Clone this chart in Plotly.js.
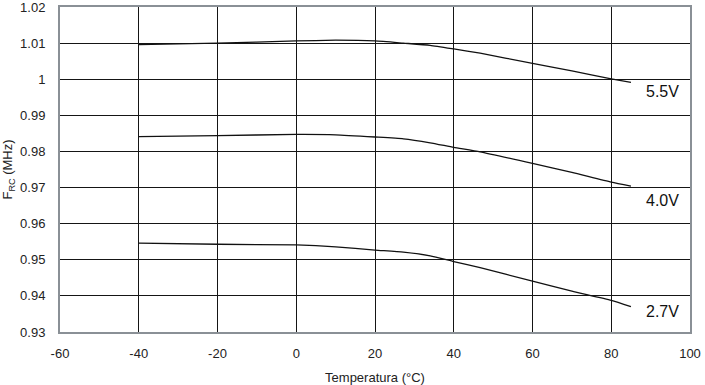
<!DOCTYPE html>
<html>
<head>
<meta charset="utf-8">
<script src="https://cdn.plot.ly/plotly-3.0.1.min.js"></script>
<style>html,body{margin:0;padding:0;background:#fff;}#chart{width:705px;height:385px;}</style>
</head>
<body>
<div id="chart"></div>
<script>
// Data
const temp55 = [-40, -20, 0, 10, 20, 27.2, 34, 40, 46.7, 60, 70, 80, 85];
const freq55 = [1.0096, 1.0100, 1.0106, 1.0108, 1.0106, 1.0100, 1.0094, 1.0084, 1.0072, 1.0044, 1.0023, 1.0001, 0.9991];
const temp40 = [-40, -20, 0, 10, 20, 27.2, 34, 40, 46.7, 60, 70, 80, 85];
const freq40 = [0.9841, 0.9844, 0.9847, 0.9846, 0.9840, 0.9835, 0.9824, 0.98115, 0.9799, 0.9767, 0.9742, 0.9715, 0.9704];
const temp27 = [-40, -20, 0, 10, 20, 27.2, 34, 40, 46.7, 60, 70, 80, 85];
const freq27 = [0.9546, 0.9543, 0.9541, 0.9536, 0.9527, 0.9521, 0.9511, 0.9495, 0.9478, 0.9441, 0.9413, 0.93875, 0.9370];
const seriesLabels = ["5.5V", "4.0V", "2.7V"];
const xTicks = [-60, -40, -20, 0, 20, 40, 60, 80, 100];
const yTicks = [0.93, 0.94, 0.95, 0.96, 0.97, 0.98, 0.99, 1.00, 1.01, 1.02];
const yTickText = ["0.93", "0.94", "0.95", "0.96", "0.97", "0.98", "0.99", "1", "1.01", "1.02"];

const lineStyle = {color: '#111', width: 1.3, shape: 'spline', smoothing: 0.5};
const traces = [
  {x: temp55, y: freq55, mode: 'lines', line: lineStyle, name: seriesLabels[0], hoverinfo: 'skip'},
  {x: temp40, y: freq40, mode: 'lines', line: lineStyle, name: seriesLabels[1], hoverinfo: 'skip'},
  {x: temp27, y: freq27, mode: 'lines', line: lineStyle, name: seriesLabels[2], hoverinfo: 'skip'}
];

const FONT = 'Liberation Sans, Arial, sans-serif';
const labelY = [0.9967, 0.96655, 0.93555];
const annotations = seriesLabels.map((t, i) => ({
  x: 92.9, y: labelY[i], xref: 'x', yref: 'y', text: t, showarrow: false,
  font: {family: FONT, size: 16, color: '#111'}
}));

const layout = {
  width: 705, height: 385,
  margin: {l: 60, r: 15, t: 7, b: 53},
  paper_bgcolor: '#fff', plot_bgcolor: '#fff',
  showlegend: false,
  font: {family: FONT, size: 13, color: '#222'},
  xaxis: {
    range: [-60, 100], tickvals: xTicks, ticktext: xTicks.map(String),
    showgrid: true, gridcolor: '#151515', gridwidth: 1,
    showline: true, linecolor: '#8a9096', linewidth: 2, mirror: true,
    zeroline: false, ticks: '', ticklen: 0, ticklabelstandoff: 8,
    ticklabeloverflow: 'allow', automargin: false,
    tickfont: {family: FONT, size: 13, color: '#222'},
    title: {text: 'Temperatura (°C)', font: {family: FONT, size: 13, color: '#222'}, standoff: 14}
  },
  yaxis: {
    range: [0.93, 1.02], tickvals: yTicks, ticktext: yTickText,
    showgrid: true, gridcolor: '#151515', gridwidth: 1,
    showline: true, linecolor: '#8a9096', linewidth: 2, mirror: true,
    zeroline: false, ticks: '', ticklen: 0, ticklabelstandoff: 10,
    ticklabeloverflow: 'allow', automargin: false,
    tickfont: {family: FONT, size: 13, color: '#222'},
    title: {text: 'F<sub>RC</sub> (MHz)', font: {family: FONT, size: 13, color: '#222'}, standoff: 8}
  },
  annotations: annotations
};

Plotly.newPlot('chart', traces, layout, {staticPlot: true, displayModeBar: false});
</script>
</body>
</html>
